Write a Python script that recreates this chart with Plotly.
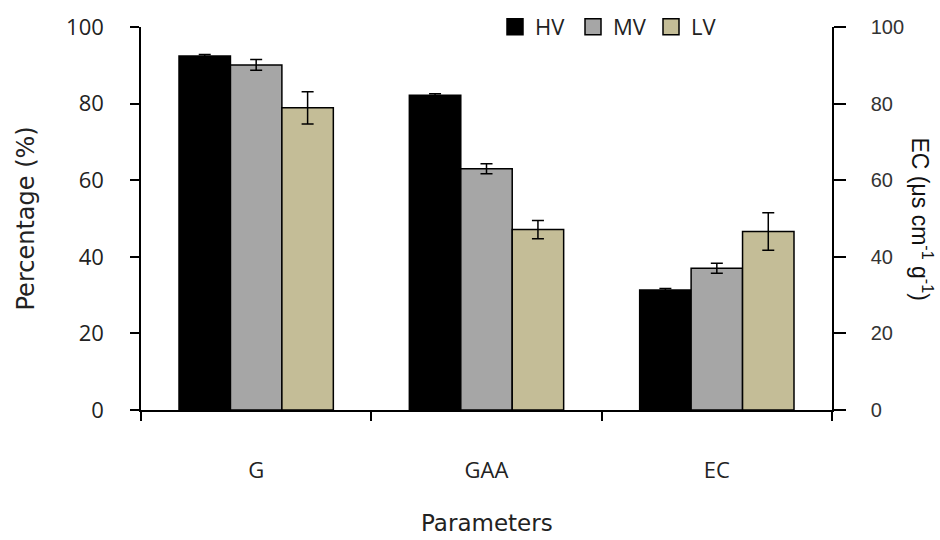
import plotly.graph_objects as go

categories = ["G", "GAA", "EC"]
series_names = ["HV", "MV", "LV"]
hv_values = [92.4, 82.2, 31.3]
mv_values = [90.1, 63.0, 37.0]
lv_values = [78.9, 47.1, 46.6]
hv_errors = [0.4, 0.4, 0.4]
mv_errors = [1.4, 1.3, 1.3]
lv_errors = [4.2, 2.4, 4.9]
y_ticks = [0, 20, 40, 60, 80, 100]
colors = ["#000000", "#A6A6A6", "#C4BD97"]

FONT = "Open Sans"
TFONT = "DejaVu Sans"
fig = go.Figure()

for name, vals, errs, col in zip(series_names,
                                  [hv_values, mv_values, lv_values],
                                  [hv_errors, mv_errors, lv_errors],
                                  colors):
    fig.add_trace(go.Bar(
        x=categories, y=vals, name=name, showlegend=False,
        marker=dict(color=col, line=dict(color="black", width=1.5)),
        error_y=dict(type="data", array=errs, visible=True,
                     color="black", thickness=1.5, width=6),
    ))
    # legend-only entry with larger square swatch
    fig.add_trace(go.Scatter(
        x=[None], y=[None], mode="markers", name=name,
        marker=dict(symbol="square", size=20, color=col,
                    line=dict(color="black", width=1.5)),
    ))

# invisible trace to activate secondary axis
fig.add_trace(go.Scatter(x=categories, y=[None] * 3, yaxis="y2",
                         showlegend=False, hoverinfo="skip", mode="markers"))

fig.update_layout(
    width=940, height=540,
    margin=dict(l=141, r=108, t=27, b=130, autoexpand=False),
    paper_bgcolor="white", plot_bgcolor="white",
    barmode="group", bargap=0.33, bargroupgap=0,
    font=dict(family=FONT, size=22, color="#222"),
    xaxis=dict(type="category", tickson="boundaries", ticks="outside",
               ticklen=9, tickwidth=1.5, tickcolor="black",
               showline=True, linecolor="black", linewidth=1.5,
               showgrid=False, ticklabelstandoff=40,
               tickfont=dict(family=FONT, size=22, color="#222")),
    yaxis=dict(range=[0, 100], tickvals=y_ticks, ticks="outside",
               ticklen=9, tickwidth=1.5, tickcolor="black",
               showline=True, linecolor="black", linewidth=1.5,
               showgrid=False, zeroline=False, ticklabelstandoff=22,
               tickfont=dict(family=FONT, size=22, color="#222")),
    yaxis2=dict(range=[0, 100], tickvals=y_ticks, overlaying="y", side="right",
                ticks="outside", ticklen=12, tickwidth=1.5, tickcolor="black",
                showline=True, linecolor="black", linewidth=1.5,
                showgrid=False, zeroline=False, ticklabelstandoff=21,
                tickfont=dict(family="Liberation Sans", size=20, color="#333")),
    legend=dict(orientation="h", x=(495 - 141) / 691, xanchor="left",
                y=1.0, yanchor="middle",
                font=dict(family=FONT, size=22, color="#222"),
                bgcolor="rgba(0,0,0,0)", itemwidth=30, traceorder="normal",
                entrywidth=33, entrywidthmode="pixels"),
    annotations=[
        dict(text="Percentage (%)", textangle=-90, xref="paper", yref="paper",
             x=(25 - 141) / 691, y=0.5, xanchor="center", yanchor="middle",
             showarrow=False,
             font=dict(family=TFONT, size=24, color="#222")),
        dict(text="EC (\u03bcs cm<sup>-1</sup> g<sup>-1</sup>)", textangle=90,
             xref="paper", yref="paper", x=(922 - 141) / 691, y=0.5,
             xanchor="center", yanchor="middle", showarrow=False,
             font=dict(family="Liberation Sans", size=23, color="#111")),
        dict(text="Parameters", xref="paper", yref="paper",
             x=0.5, y=(410 - 523) / 383, xanchor="center", yanchor="middle",
             showarrow=False,
             font=dict(family=TFONT, size=23, color="#222")),
    ],
)

fig.write_html("out.html")
